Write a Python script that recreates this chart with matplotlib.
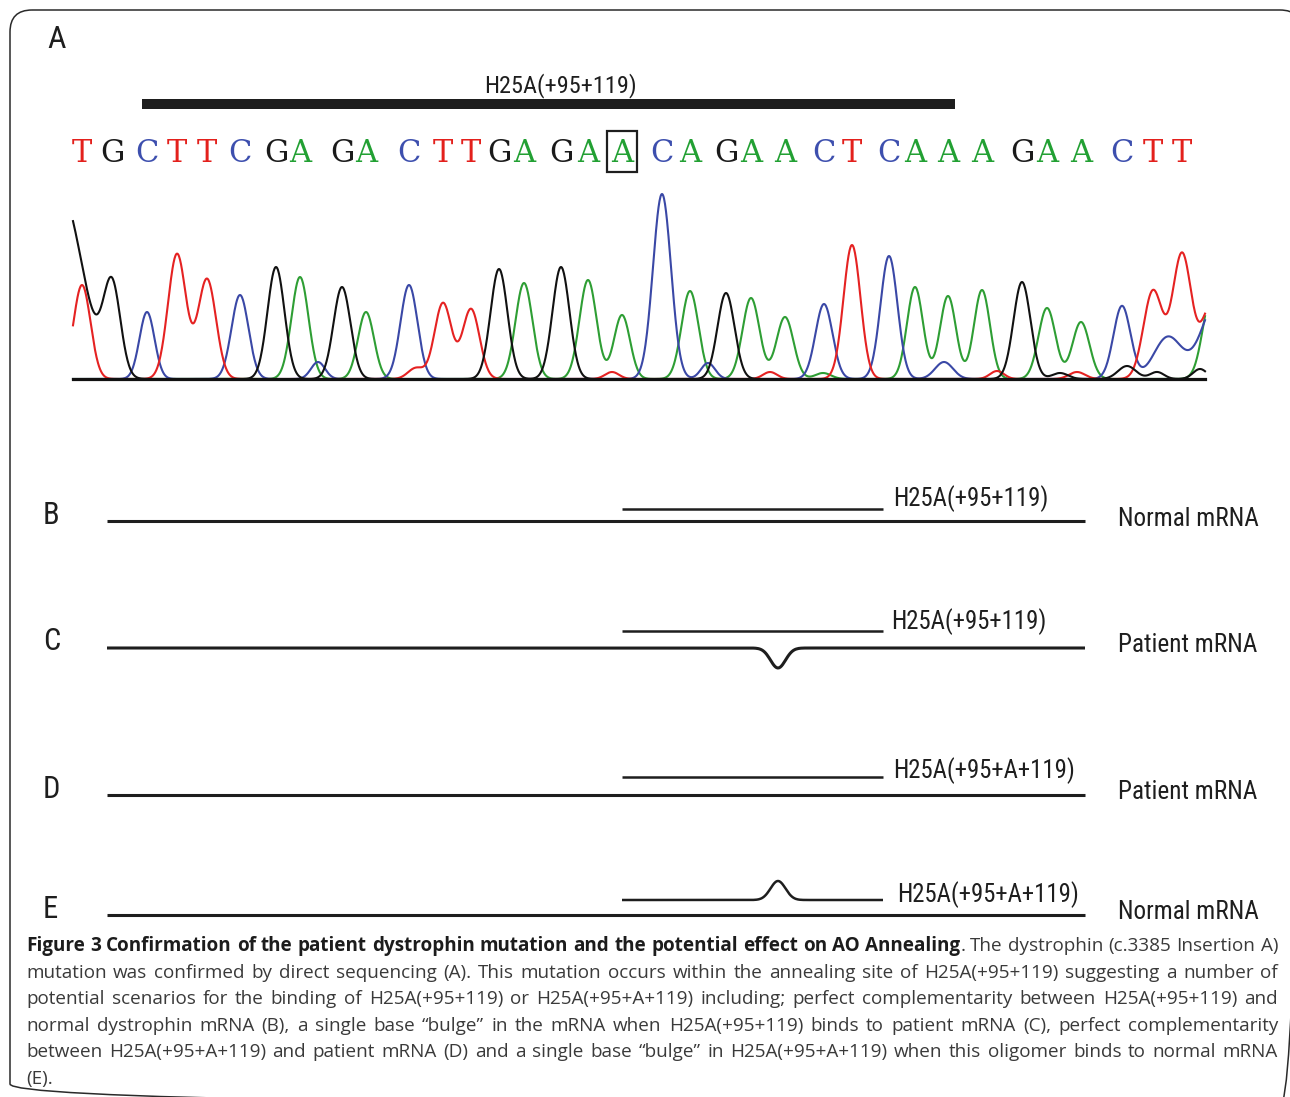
import numpy as np
import matplotlib
matplotlib.use("Agg")
import matplotlib.pyplot as plt
import matplotlib.patches as mpatches
from matplotlib import font_manager

# =============================================================================
# Datos
# =============================================================================

# Secuencia leída (base llamada) y posición / altura de cada pico del cromatograma
bases = list("TGCTTCGAGACTTGAGAACAGAACTCAAAGAACTT")
peak_pos = [82, 112, 147, 177, 207, 240, 276, 300, 342, 366,
            409, 443, 471, 499, 524, 561, 588, 622, 662, 690,
            726, 751, 785, 824, 852, 889, 915, 948, 982, 1022,
            1047, 1081, 1122, 1153, 1182]
peak_height = [94, 90, 67, 125, 100, 84, 112, 102, 92, 67,
               94, 76, 70, 110, 96, 112, 99, 64, 185, 88,
               86, 81, 62, 75, 134, 123, 92, 83, 89, 97,
               71, 57, 73, 88, 125]
peak_width = [8.5, 8.5, 7.5, 9, 9, 8.5, 8.5, 8.5, 8.5, 8,
              8.5, 8.5, 8.5, 8.5, 8.5, 8.5, 8.5, 8, 9, 8.5,
              8.5, 8.5, 8.5, 8.5, 8.5, 8.5, 8, 8, 8, 8.5,
              8.5, 8.5, 8.5, 9.5, 9.5]
mutation_index = 17  # A insertada (recuadro)

# Señal secundaria / de fondo
extra_base = ['G', 'C', 'T', 'T', 'C', 'T', 'A', 'C', 'T', 'G',
              'T', 'G', 'G', 'G', 'C', 'C', 'A', 'T']
extra_pos = [60, 318, 416, 612, 708, 770, 823, 944, 997, 1060,
             1077, 1127, 1157, 1200, 1168, 1218, 1212, 1212]
extra_height = [188, 17, 11, 7, 16, 7, 6, 17, 8, 6,
                7, 13, 7, 10, 42, 80, 85, 75]
extra_width = [22, 7, 8, 7, 7, 7, 8, 9, 7, 8,
               8, 9, 7, 7, 14, 16, 9, 10]

# Paneles B-E
panel_labels = ['B', 'C', 'D', 'E']
ao_names = ['H25A(+95+119)', 'H25A(+95+119)', 'H25A(+95+A+119)', 'H25A(+95+A+119)']
mrna_names = ['Normal mRNA', 'Patient mRNA', 'Patient mRNA', 'Normal mRNA']
bulge_in = ['', 'mrna', '', 'ao']

caption_lines = [
    "Figure 3 Confirmation of the patient dystrophin mutation and the potential effect on AO Annealing. The dystrophin (c.3385 Insertion A)",
    "mutation was confirmed by direct sequencing (A). This mutation occurs within the annealing site of H25A(+95+119) suggesting a number of",
    "potential scenarios for the binding of H25A(+95+119) or H25A(+95+A+119) including; perfect complementarity between H25A(+95+119) and",
    "normal dystrophin mRNA (B), a single base \u201cbulge\u201d in the mRNA when H25A(+95+119) binds to patient mRNA (C), perfect complementarity",
    "between H25A(+95+A+119) and patient mRNA (D) and a single base \u201cbulge\u201d in H25A(+95+A+119) when this oligomer binds to normal mRNA",
    "(E).",
]
n_bold_words = 15

# =============================================================================
# Estilo
# =============================================================================

base_color = {'A': '#22a033', 'C': '#3d4fae', 'G': '#1a1a1a', 'T': '#e3201c'}
trace_color = {'A': '#2e9e34', 'C': '#3a48a6', 'G': '#111111', 'T': '#e52222'}

_fonts = {f.name for f in font_manager.fontManager.ttflist}
LABEL_FONT, label_scale = 'Liberation Sans', 0.84
for cand in ['Liberation Sans Narrow', 'Arial Narrow', 'Nimbus Sans Narrow', 'Roboto Condensed']:
    if cand in _fonts:
        LABEL_FONT, label_scale = cand, 1.0
        break
CAP_FONT = 'Open Sans' if 'Open Sans' in _fonts else 'DejaVu Sans'
INK = '#1e1e1e'

W, H = 1290, 1097
fig = plt.figure(figsize=(W / 100, H / 100), dpi=100)
fig.patch.set_facecolor('white')

# Eje de página en píxeles (y hacia abajo)
ax = fig.add_axes([0, 0, 1, 1])
ax.set_xlim(0, W)
ax.set_ylim(H, 0)
ax.axis('off')

# Marco redondeado (recortado a la derecha y abajo)
ax.add_patch(mpatches.FancyBboxPatch((10, 10), 1292, 1096,
                                     boxstyle="round,pad=0,rounding_size=22",
                                     fill=False, ec='#2a2a2a', lw=1.1))

# =============================================================================
# Panel A: cromatograma
# =============================================================================

ax.text(47, 39, 'A', fontsize=23 * label_scale, family=LABEL_FONT, color=INK,
        ha='left', va='center')

ax.plot([142, 955], [104, 104], color=INK, lw=7.2, solid_capstyle='butt')
ax.text(560, 86, 'H25A(+95+119)', fontsize=17.5 * label_scale, family=LABEL_FONT,
        color=INK, ha='center', va='center')

for i, (b, x) in enumerate(zip(bases, peak_pos)):
    ax.text(x, 153, b, fontsize=22, family='DejaVu Serif', color=base_color[b],
            ha='center', va='center')
mx = peak_pos[mutation_index]
ax.add_patch(mpatches.Rectangle((mx - 15, 131), 30, 41, fill=False, ec=INK, lw=1.6))

x0, x1, base_y, top_y = 73, 1205, 379, 190
ax_chr = fig.add_axes([x0 / W, (H - base_y) / H, (x1 - x0) / W, (base_y - top_y) / H])
ax_chr.set_xlim(x0, x1)
ax_chr.set_ylim(0, base_y - top_y)
ax_chr.axis('off')

xs = np.arange(x0, x1 + 0.5, 0.5)
for ch in ['A', 'C', 'T', 'G']:
    sig = np.zeros_like(xs)
    for b, c, h, s in zip(bases, peak_pos, peak_height, peak_width):
        if b == ch:
            sig += h * np.exp(-0.5 * ((xs - c) / s) ** 2)
    for b, c, h, s in zip(extra_base, extra_pos, extra_height, extra_width):
        if b == ch:
            sig += h * np.exp(-0.5 * ((xs - c) / s) ** 2)
    ax_chr.plot(xs, sig, color=trace_color[ch], lw=1.5, clip_on=False)
ax_chr.plot([x0, x1], [0, 0], color='#111111', lw=2.3, clip_on=False, zorder=5)

# =============================================================================
# Paneles B-E: esquemas de hibridación
# =============================================================================

mrna_y = [521, 648, 795, 915]
ao_y = [509, 631, 777, 900]
ao_text_y = [499, 622, 771, 895]
ao_text_x = [893, 891, 893, 897]
mrna_text_y = [519, 645, 792, 912]
bulge_x, bulge_s = 778, 7.5

for lab, ao, mr, bl, my, ay, aty, atx, mty in zip(panel_labels, ao_names, mrna_names,
                                                  bulge_in, mrna_y, ao_y, ao_text_y,
                                                  ao_text_x, mrna_text_y):
    ax.text(43, my - 6, lab, fontsize=22 * label_scale, family=LABEL_FONT, color=INK,
            ha='left', va='center')
    xm = np.linspace(107, 1085, 800)
    ym = np.full_like(xm, my, dtype=float)
    if bl == 'mrna':
        ym = ym + 20 * np.exp(-0.5 * ((xm - bulge_x) / bulge_s) ** 2)
    ax.plot(xm, ym, color=INK, lw=2.2, solid_capstyle='butt')
    xa = np.linspace(622, 883, 400)
    ya = np.full_like(xa, ay, dtype=float)
    if bl == 'ao':
        ya = ya - 19 * np.exp(-0.5 * ((xa - bulge_x) / bulge_s) ** 2)
    ax.plot(xa, ya, color=INK, lw=1.8, solid_capstyle='butt')
    ax.text(atx, aty, ao, fontsize=17.8 * label_scale, family=LABEL_FONT, color=INK,
            ha='left', va='center')
    ax.text(1118, mty, mr, fontsize=18.2 * label_scale, family=LABEL_FONT, color=INK,
            ha='left', va='center')

# =============================================================================
# Pie de figura (justificado)
# =============================================================================

renderer = fig.canvas.get_renderer()


def tokens_of(i):
    words = caption_lines[i].split(' ')
    toks = []
    for k, w in enumerate(words):
        if i == 0 and k < n_bold_words:
            if w.endswith('.'):
                toks.append((w[:-1], 'bold', True))
                toks.append(('.', 'normal', False))
            else:
                toks.append((w, 'bold', True))
        else:
            toks.append((w, 'normal', True))
    return toks


def text_w(s, weight, fs):
    t = ax.text(0, 0, s, fontsize=fs, fontweight=weight, family=CAP_FONT)
    w = t.get_window_extent(renderer).width
    t.remove()
    return w


left, right = 26, 1278
cap_fs = 13.6
for _ in range(3):
    sp = text_w('n n', 'normal', cap_fs) - text_w('nn', 'normal', cap_fs)
    widest = 0
    for i in range(len(caption_lines)):
        toks = tokens_of(i)
        tw = sum(text_w(s, wt, cap_fs) for s, wt, _g in toks)
        gaps = sum(1 for k, (_s, _w, g) in enumerate(toks) if g and k > 0)
        widest = max(widest, tw + gaps * sp)
    if widest <= (right - left):
        break
    cap_fs *= (right - left) / widest * 0.995

baselines = [951, 978, 1004, 1031, 1057, 1084]
for i, yb in enumerate(baselines):
    toks = tokens_of(i)
    widths = [text_w(s, wt, cap_fs) for s, wt, _g in toks]
    gaps = sum(1 for k, (_s, _w, g) in enumerate(toks) if g and k > 0)
    if i < len(baselines) - 1 and gaps:
        gap = (right - left - sum(widths)) / gaps
    else:
        gap = sp
    x = left
    for k, ((s, wt, g), w) in enumerate(zip(toks, widths)):
        if k > 0 and g:
            x += gap
        ax.text(x, yb, s, fontsize=cap_fs, fontweight=wt, family=CAP_FONT,
                color='#1c1c1c' if wt == 'bold' else '#3a3a3a', ha='left', va='baseline')
        x += w

fig.savefig('out.png', dpi=100)
